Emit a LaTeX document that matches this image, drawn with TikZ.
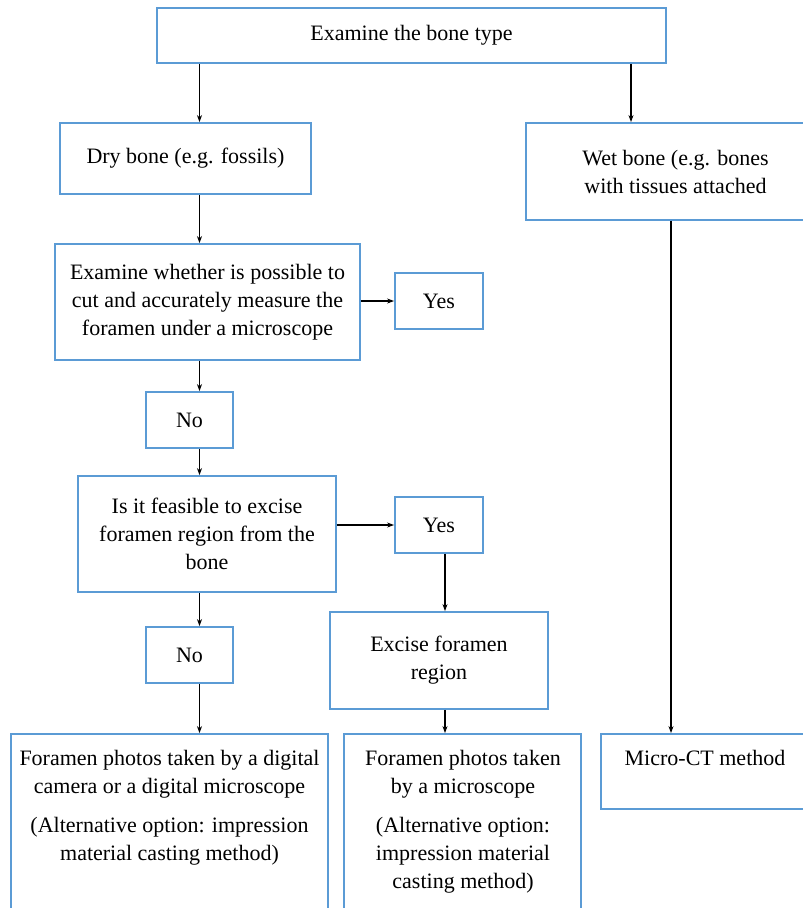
\documentclass[tikz,border=0pt]{standalone}
\usepackage{fontspec}
\setmainfont{Liberation Serif}
\usepackage{xcolor}
\usepackage{tikz}
\usetikzlibrary{arrows.meta}
\definecolor{boxblue}{HTML}{5B9BD5}

\begin{document}
\begin{tikzpicture}[x=1pt, y=-1pt, line width=1.3pt, >={Stealth[length=7pt,width=5pt]},
    box/.style = {draw=boxblue, line width=1.8pt, rectangle, align=center, inner sep=0pt, font=\fontsize{22}{28}\selectfont},
    txt/.style = {align=center, inner sep=0pt, font=\fontsize{22}{28}\selectfont}]
    \useasboundingbox (0,0) rectangle (803,908);
    \clip (0,0) rectangle (803,908);
    % arrow columns
    \coordinate (c1) at (199.5,0);
    \coordinate (c2) at (445,0);
    \coordinate (c3) at (631,0);
    \coordinate (c4) at (671,0);

    \node[box, minimum width=509pt, minimum height=55pt] (type) at (411.5,35.5) {Examine the bone type};
    \node[box, minimum width=251pt, minimum height=71pt] (dry) at (185.5,158.5) {Dry bone (e.g. fossils)};
    \node[box, minimum width=299pt, minimum height=97pt] (wet) at (675.5,171.5) {Wet bone (e.g. bones\\with tissues attached};
    \node[box, minimum width=305pt, minimum height=116pt] (exam) at (207.5,302) {Examine whether is possible to\\cut and accurately measure the\\foramen under a microscope};
    \node[box, minimum width=88pt, minimum height=56pt] (yesA) at (439,301) {Yes};
    \node[box, minimum width=87pt, minimum height=56pt] (noA) at (189.5,420) {No};
    \node[box, minimum width=258pt, minimum height=116pt] (feas) at (207,534) {Is it feasible to excise\\foramen region from the\\bone};
    \node[box, minimum width=88pt, minimum height=56pt] (yesB) at (439,525) {Yes};
    \node[box, minimum width=87pt, minimum height=56pt] (noB) at (189.5,655) {No};
    \node[box, minimum width=218pt, minimum height=97pt] (excise) at (439,660.5) {Excise foramen\\region};
    \node[box, minimum width=317pt, minimum height=196pt] (photoA) at (169.5,832) {};
    \node[box, minimum width=237pt, minimum height=196pt] (photoB) at (462.5,832) {};
    \node[box, minimum width=211pt, minimum height=75pt] (micro) at (706.5,771.5) {};

    \node[txt, anchor=north] (photoAtxt) at (169.5,750) {Foramen photos taken by a digital\\camera or a digital microscope\\[11pt](Alternative option: impression\\material casting method)};
    \node[txt, anchor=north] (photoBtxt) at (463,750) {Foramen photos taken\\by a microscope\\[11pt](Alternative option:\\impression material\\casting method)};
    \node[txt, anchor=north] (microtxt) at (705,750) {Micro-CT method};

    \draw[->] (type.south -| c1) -- (dry.north -| c1);
    \draw[->] (type.south -| c3) -- (wet.north -| c3);
    \draw[->] (dry.south -| c1) -- (exam.north -| c1);
    \draw[->] (exam.east |- yesA) -- (yesA.west);
    \draw[->] (exam.south -| c1) -- (noA.north -| c1);
    \draw[->] (noA.south -| c1) -- (feas.north -| c1);
    \draw[->] (feas.east |- yesB) -- (yesB.west);
    \draw[->] (feas.south -| c1) -- (noB.north -| c1);
    \draw[->] (yesB.south -| c2) -- (excise.north -| c2);
    \draw[->] (noB.south -| c1) -- (photoA.north -| c1);
    \draw[->] (excise.south -| c2) -- (photoB.north -| c2);
    \draw[->] (wet.south -| c4) -- (micro.north -| c4);
\end{tikzpicture}
\end{document}
